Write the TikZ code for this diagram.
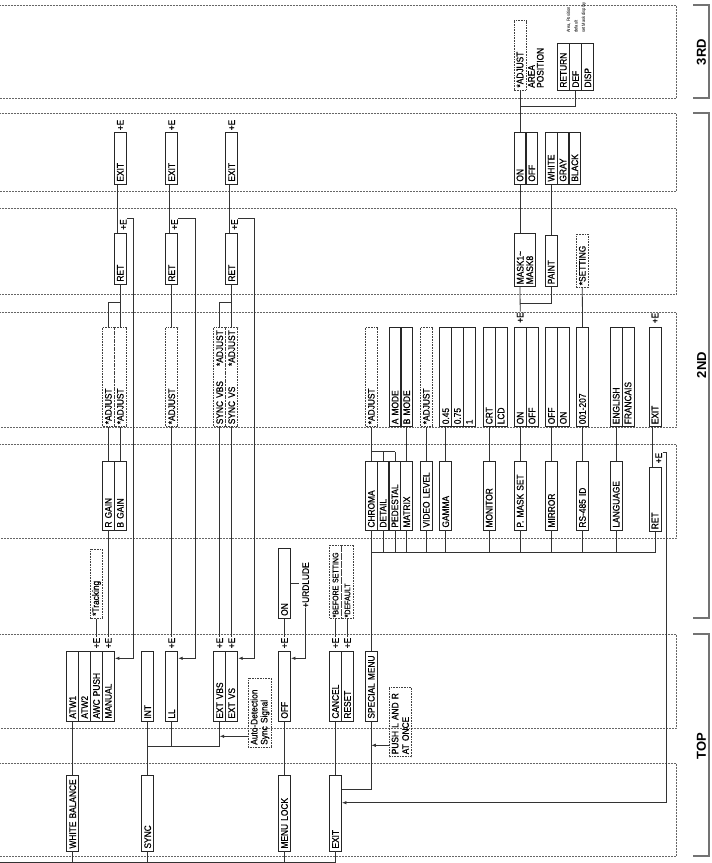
\documentclass[tikz,border=0pt]{standalone}
\usepackage{fontspec}
\usepackage{tikz}
\usetikzlibrary{arrows.meta}
\newfontfamily\cond{Liberation Sans}[FakeStretch=0.88, FakeBold=0.8]
\newfontfamily\condlight{Liberation Sans}[FakeStretch=0.85]
\newfontfamily\headfont{Liberation Sans}
\newcommand\menufont{\cond\fontsize{9.5}{9.5}\selectfont}
\newcommand\smallnote{\condlight\fontsize{4.8}{7.5}\selectfont}

\tikzset{
  menubox/.style={draw=black!85, line width=0.9pt, rotate=90,
    minimum height=12pt, inner xsep=2.5pt, inner ysep=0pt,
    text width=#1, align=left, font=\menufont},
  notebox/.style={menubox=#1, draw=black!75, line width=0.6pt, densely dotted},
  plusE/.style={rotate=90, inner sep=0.5pt, font=\menufont},
  link/.style={draw=black!80, line width=0.8pt},
  back/.style={link, -{Latex[length=4.5pt,width=3.5pt]}},
  band/.style={draw=black!60, line width=0.5pt, densely dotted},
  bracket/.style={draw=black!55, line width=1.3pt},
  level/.style={rotate=90, font=\headfont\bfseries\fontsize{13}{14}\selectfont},
}

\begin{document}
\begin{tikzpicture}[x=1pt, y=-1pt]
\useasboundingbox (0,0) rectangle (712,863);

% level frames
\foreach \ya/\yb in {5/98, 113/191, 208/294, 312/427, 444/538, 634/728, 763/856}
  \draw[band] (0,\ya) -- (676,\ya) -- (676,\yb) -- (0,\yb);

% level brackets
\draw[bracket] (693,5) -- (709,5) -- (709,98) -- (693,98);
\draw[bracket] (693,113) -- (709,113) -- (709,618) -- (693,618);
\draw[bracket] (693,634) -- (709,634) -- (709,856) -- (693,856);
\node[level] (lev3) at (701.5,52) {3RD};
\node[level] (lev2) at (701.5,365) {2ND};
\node[level] (lev1) at (701.5,746) {TOP};

% TOP, first row
\node[menubox=71pt] (wb) at (72.7,813) {WHITE BALANCE};
\node[menubox=71pt] (sync) at (147.7,813) {SYNC};
\node[menubox=71pt] (mlock) at (284.5,813) {MENU LOCK};
\node[menubox=71pt] (exitA) at (335.5,813) {EXIT};

% TOP, second row
\node[menubox=64.3pt] (atwA) at (72.7,686.4) {ATW1};
\node[menubox=64.3pt] (atwB) at (84.6,686.4) {ATW2};
\node[menubox=64.3pt] (awc) at (96.5,686.4) {AWC PUSH};
\node[menubox=64.3pt] (manual) at (108.4,686.4) {MANUAL};
\node[menubox=64.3pt] (int) at (147.7,686.4) {INT};
\node[menubox=64.3pt] (ll) at (171.7,686.4) {LL};
\node[menubox=64.3pt] (extvbs) at (219.7,686.4) {EXT VBS};
\node[menubox=64.3pt] (extvs) at (231.7,686.4) {EXT VS};
\node[menubox=64.3pt] (off) at (284.5,686.4) {OFF};
\node[menubox=64.3pt] (cancel) at (335.5,686.4) {CANCEL};
\node[menubox=64.3pt] (reset) at (347.5,686.4) {RESET};
\node[menubox=64.3pt] (special) at (371.3,686.4) {SPECIAL MENU};
\node[notebox=64pt, minimum height=23.4pt, font=\cond\fontsize{9.5}{10}\selectfont] (auto) at (260,712.8) {Auto-Detection\\Sync Signal};
\node[notebox=64pt, minimum height=22.7pt, font=\cond\fontsize{9.5}{10.5}\selectfont] (push) at (400.3,722.2) {PUSH L AND R\\AT ONCE};

\node[plusE] (eAwc) at (96.5,643) {+E};
\node[plusE] (eMan) at (108.4,643) {+E};
\node[plusE] (eLL) at (171.7,643) {+E};
\node[plusE] (eVbs) at (219.7,643) {+E};
\node[plusE] (eVs) at (231.7,643) {+E};
\node[plusE] (eOff) at (284.5,643) {+E};
\node[plusE] (eCan) at (335.5,643) {+E};
\node[plusE] (eRes) at (347.5,643) {+E};

\node[notebox=64pt] (track) at (96.5,583.8) {*Tracking};
\node[menubox=65pt] (on) at (284.5,583.3) {ON};
\node[plusE] (urd) at (305.7,585) {+URDLUDE};
\node[notebox=71.3pt, inner xsep=1pt, font=\cond\fontsize{8}{9}\selectfont] (before) at (335.5,581.7) {*BEFORE SETTING};
\node[notebox=71.3pt, inner xsep=1pt, font=\cond\fontsize{8}{9}\selectfont] (dflt) at (347.5,581.7) {*DEFAULT};

% 2ND, first row
\node[menubox=64pt] (rgain) at (108.4,495.5) {R GAIN};
\node[menubox=64pt] (bgain) at (120.3,495.5) {B GAIN};
\node[menubox=64pt] (chroma) at (371.3,495.5) {CHROMA};
\node[menubox=64pt] (detail) at (383.1,495.5) {DETAIL};
\node[menubox=64pt] (pedestal) at (394.9,495.5) {PEDESTAL};
\node[menubox=64pt] (matrix) at (406.7,495.5) {MATRIX};
\node[menubox=64pt] (vlevel) at (426.3,495.5) {VIDEO LEVEL};
\node[menubox=64pt] (gamma) at (445.7,495.5) {GAMMA};
\node[menubox=64pt] (monitor) at (489.2,495.5) {MONITOR};
\node[menubox=64pt] (pmask) at (520.2,495.5) {P. MASK SET};
\node[menubox=64pt] (mirror) at (551.5,495.5) {MIRROR};
\node[menubox=64pt] (rsid) at (582.5,495.5) {RS-485 ID};
\node[menubox=64pt] (language) at (616.2,495.5) {LANGUAGE};
\node[menubox=59pt] (retC) at (655,499.7) {RET};
\node[plusE] (eRetC) at (658.7,458) {+E};

% 2ND, second row
\node[notebox=94pt] (adjR) at (108.4,377.2) {*ADJUST};
\node[notebox=94pt] (adjB) at (120.3,377.2) {*ADJUST};
\node[notebox=94pt] (adjL) at (171.7,377.2) {*ADJUST};
\node[notebox=94pt] (adjV1) at (219.7,377.2) {SYNC VBS\hfill*ADJUST\hspace*{3pt}};
\node[notebox=94pt] (adjV2) at (231.7,377.2) {SYNC VS\hfill*ADJUST\hspace*{3pt}};
\node[notebox=94pt] (adjC) at (371.3,377.2) {*ADJUST};
\node[menubox=94pt] (amode) at (395.1,377.2) {A MODE};
\node[menubox=94pt] (bmode) at (406.7,377.2) {B MODE};
\node[notebox=94pt] (adjVL) at (426.3,377.2) {*ADJUST};
\node[menubox=94pt] (gA) at (445.7,377.2) {0.45};
\node[menubox=94pt] (gB) at (457.5,377.2) {0.75};
\node[menubox=94pt] (gC) at (469.3,377.2) {1};
\node[menubox=94pt] (crt) at (489.2,377.2) {CRT};
\node[menubox=94pt] (lcd) at (501,377.2) {LCD};
\node[menubox=94pt] (onP) at (520.2,377.2) {ON};
\node[menubox=94pt] (offP) at (532,377.2) {OFF};
\node[menubox=94pt] (offM) at (551.5,377.2) {OFF};
\node[menubox=94pt] (onM) at (563.3,377.2) {ON};
\node[menubox=94pt] (idv) at (582.5,377.2) {001-207};
\node[menubox=94pt] (english) at (616.2,377.2) {ENGLISH};
\node[menubox=94pt] (francais) at (628,377.2) {FRANCAIS};
\node[menubox=94pt] (exitD) at (655,377.2) {EXIT};
\node[plusE] (ePm) at (520.2,317.5) {+E};
\node[plusE] (eExD) at (655,318) {+E};

% 2ND, third row
\node[menubox=46pt] (retE1) at (120.3,258.5) {RET};
\node[menubox=46pt] (retE2) at (171.7,258.5) {RET};
\node[menubox=46pt] (retE3) at (231.7,258.5) {RET};
\node[menubox=48.4pt, minimum height=21.4pt] (mask) at (525,260) {MASK1\textasciitilde\\MASK8};
\node[menubox=46.7pt] (paint) at (551.2,260.8) {PAINT};
\node[notebox=48.4pt] (setting) at (582.3,261) {*SETTING};
\node[plusE] (eR1) at (123.3,224.5) {+E};
\node[plusE] (eR2) at (174.5,224.5) {+E};
\node[plusE] (eR3) at (234.5,224.5) {+E};

% 2ND, fourth row
\node[menubox=46.7pt] (exitF1) at (120.3,158.2) {EXIT};
\node[menubox=46.7pt] (exitF2) at (171.7,158.2) {EXIT};
\node[menubox=46.7pt] (exitF3) at (231.7,158.2) {EXIT};
\node[menubox=46.7pt] (onF) at (520,158.2) {ON};
\node[menubox=46.7pt] (offF) at (531.8,158.2) {OFF};
\node[menubox=46.7pt] (wht) at (551.2,158.2) {WHITE};
\node[menubox=46.7pt] (gry) at (563,158.2) {GRAY};
\node[menubox=46.7pt] (blk) at (574.8,158.2) {BLACK};
\node[plusE] (eX1) at (120.3,125) {+E};
\node[plusE] (eX2) at (171.7,125) {+E};
\node[plusE] (eX3) at (231.7,125) {+E};

% 3RD
\node[notebox=64.3pt] (adjG) at (520,55.3) {*ADJUST};
\node[rotate=90, anchor=north west, inner sep=0pt, align=left, font=\cond\fontsize{9.5}{8.8}\selectfont] (areapos) at (528,88) {AREA\\POSITION};
\node[menubox=41.7pt] (retn) at (563.4,66.7) {RETURN};
\node[menubox=41.7pt] (def) at (575.6,66.7) {DEF};
\node[menubox=41.7pt] (disp) at (587.8,66.7) {DISP};
\node[rotate=90, anchor=north west, inner sep=0pt, align=left, font=\smallnote] (hint) at (566.5,33) {Area, Position\\default\\set Mask display};

% TOP connections
\coordinate (root) at (0,862);
\draw[link] (root) -- (exitA.west |- root);
\foreach \n in {wb,sync,mlock,exitA}
  \draw[link] (\n.west) -- (\n.west |- root);
\draw[link] (wb.east) -- (atwA.west);
\draw[link] (sync.east) -- (int.west);
\coordinate (sb) at (0,746);
\draw[link] (sync.east |- sb) -| (ll.west);
\draw[link] (ll.west |- sb) -| (extvbs.west);
\draw[link] (mlock.east) -- (off.west);
\draw[link] (exitA.east) -- (cancel.west);
\draw[link] (exitA.south |- 0,789.3) -| (special.west);
\coordinate (adt) at ([yshift=11.3pt]auto.north west);
\draw[back] (adt) -- (extvbs.west |- adt);
\coordinate (plr) at ([yshift=11.7pt]push.north west);
\draw[back] (plr) -- (special.west |- plr);

\draw[link] (eAwc.east) -- (track.west);
\draw[link] (eMan.east) -- (rgain.west);
\draw[link] (eLL.east) -- (adjL.west);
\draw[link] (eVbs.east) -- (adjV1.west);
\draw[link] (eVs.east) -- (adjV2.west);
\draw[link] (eOff.east) -- (on.west);
\draw[link] (eCan.east) -- (before.west);
\draw[link] (eRes.east) -- (dflt.west);
\draw[link] (special.east) -- (chroma.west);
\draw[link] (on.south) -- ++(7.6,0);
\coordinate (r4) at (305.7,658.3);
\draw[back] (urd.west) -- (r4) -- (off.south |- r4);

% 2ND connections
\coordinate (cb) at (0,552.7);
\draw[link] (chroma.west |- cb) -- (retC.west |- cb);
\foreach \n in {detail,pedestal,matrix,vlevel,gamma,monitor,pmask,mirror,rsid,language,retC}
  \draw[link] (\n.west) -- (\n.west |- cb);
\coordinate (j1) at (0,451.7);
\foreach \n in {detail,pedestal}
  \draw[link] (\n.east) -- (\n.east |- j1);
\draw[link] (chroma.east |- j1) -- (pedestal.east |- j1);
\draw[link] (chroma.east) -- (adjC.west);
\draw[link] (rgain.east) -- (adjR.west);
\draw[link] (bgain.east) -- (adjB.west);
\draw[link] (matrix.east) -- (bmode.west);
\draw[link] (vlevel.east) -- (adjVL.west);
\draw[link] (gamma.east) -- (gA.west);
\draw[link] (monitor.east) -- (crt.west);
\draw[link] (pmask.east) -- (onP.west);
\draw[link] (mirror.east) -- (offM.west);
\draw[link] (rsid.east) -- (idv.west);
\draw[link] (language.east) -- (english.west);
\draw[link] ([xshift=-2.3pt]retC.east) -- ([xshift=-2.3pt]exitD.west);
\coordinate (r5) at (666.7,802.7);
\draw[back] (eRetC.south east) -| (r5) -- (exitA.south |- r5);

\coordinate (j2) at (0,302.7);
\draw[link] (adjR.east) |- (adjB.east |- j2);
\draw[link] (adjB.east) -- (retE1.west);
\draw[link] (adjL.east) -- (retE2.west);
\draw[link] (adjV1.east) |- (adjV2.east |- j2);
\draw[link] (adjV2.east) -- (retE3.west);
\draw[link] (ePm.east) -- ([xshift=-5pt]mask.west);
\coordinate (j3) at (0,303.3);
\draw[link] (paint.west) |- (ePm.east |- j3);
\draw[link] (idv.east) -- (setting.west);

\foreach \ra/\rb in {retE1/exitF1, retE2/exitF2, retE3/exitF3}
  \draw[link] ([xshift=-2.5pt]\ra.east) -- ([xshift=-2.5pt]\rb.west);
\coordinate (r1) at (133.3,658.3);
\coordinate (r2) at (195,658.3);
\coordinate (r3) at (254.3,658.3);
\draw[back] (eR1.south east) -| (r1) -- (manual.south |- r1);
\draw[back] (eR2.south east) -| (r2) -- (ll.south |- r2);
\draw[back] (eR3.south east) -| (r3) -- (extvs.south |- r3);
\draw[link] ([xshift=-5pt]mask.east) -- (onF.west);
\draw[link] (paint.east) -- (wht.west);

% 3RD connections
\draw[link] (onF.east) -- (adjG.west);
\coordinate (j4) at (0,106.7);
\draw[link] (def.west) |- (adjG.west |- j4);

\end{tikzpicture}
\end{document}
